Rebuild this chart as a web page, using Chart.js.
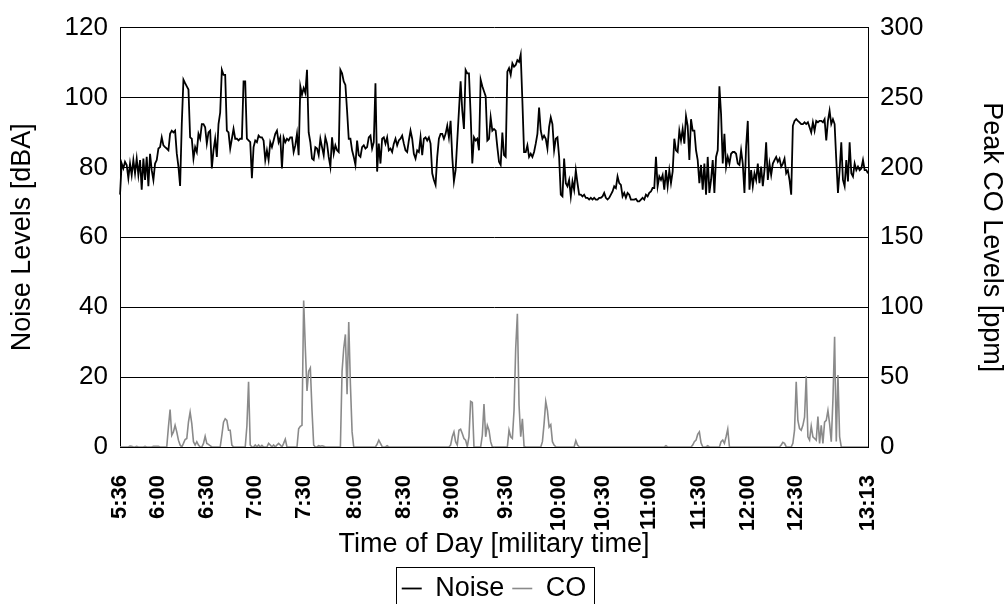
<!DOCTYPE html>
<html>
<head>
<meta charset="utf-8">
<script src="https://cdn.jsdelivr.net/npm/chart.js@4.4.1/dist/chart.umd.min.js"></script>
<style>
  html, body { margin: 0; padding: 0; background: #fff; }
  #wrap { width: 1008px; height: 604px; }
</style>
</head>
<body>
<div id="wrap"><canvas id="chart" width="1008" height="604"></canvas></div>
<script>
// noise level per sample [dBA]
const noiseDb = [
  72.2, 81.1, 79.7, 81.6, 80.7, 76.9, 81.1, 77.8, 82.1, 78.3,
  82.5, 77.8, 82.1, 73.6, 82.5, 76.4, 83.0, 74.6, 83.9, 79.2,
  76.4, 81.1, 82.1, 85.4, 85.8, 88.6, 86.3, 85.8, 85.4, 84.9,
  89.6, 90.5, 90.0, 90.5, 84.0, 80.2, 74.7, 92.4, 105.1, 104.1,
  103.2, 102.3, 88.6, 88.2, 82.5, 85.8, 84.4, 89.6, 88.2, 92.4,
  92.4, 91.5, 86.8, 90.0, 90.5, 79.7, 84.9, 88.2, 83.0, 92.4,
  95.7, 107.9, 106.5, 106.5, 90.5, 90.0, 85.4, 88.2, 91.0, 88.2,
  88.2, 87.7, 88.2, 88.2, 104.6,
  104.6, 88.2, 87.7, 87.2, 76.9, 85.8, 87.7, 87.2, 89.1, 88.6,
  88.6, 87.7, 82.1, 84.9, 82.1, 87.2, 85.8, 87.7, 89.6, 90.5,
  87.2, 88.6, 79.7, 88.6, 87.2, 88.2, 87.7, 88.6, 88.6, 84.4,
  86.3, 89.6, 83.5, 103.2, 100.8, 102.7, 101.3, 107.9, 90.0, 87.2,
  82.5, 82.1, 85.8, 85.4, 83.5, 88.2, 85.8, 83.5, 88.6, 86.8,
  83.0, 80.2, 88.6, 83.9, 86.3, 84.9, 84.4, 107.9, 106.9, 104.6,
  103.6, 96.2, 88.2, 88.2, 84.9, 83.0, 80.7, 87.7, 83.5, 83.0,
  85.8, 86.3, 85.4, 85.8, 88.6,
  89.1, 85.4, 87.2, 104.1, 78.8, 86.8, 81.1, 88.2, 88.6, 86.8,
  88.6, 84.9, 85.4, 84.4, 86.8, 88.2, 86.3, 87.7, 88.2, 89.1,
  86.8, 84.9, 84.4, 87.7, 90.5, 88.2, 83.9, 82.5, 84.9, 84.4,
  88.6, 83.5, 88.2, 88.6, 87.7, 88.6, 86.8, 78.3, 76.4, 75.0,
  83.0, 88.2, 89.6, 89.6, 88.2, 89.6, 91.9, 88.6, 93.3, 83.0,
  76.0, 79.2, 87.7, 96.2, 104.6, 96.2, 91.0, 107.9, 106.9, 106.9,
  95.2, 81.1, 88.6, 87.7, 88.2, 84.9, 105.1, 103.2, 101.8, 100.4,
  87.7, 88.2, 94.3, 90.5, 91.0,
  90.5, 85.8, 81.6, 80.7, 90.0, 83.5, 83.0, 107.4, 108.4, 106.5,
  109.8, 108.8, 109.3, 110.7, 110.2, 112.3, 99.0, 84.4, 84.4, 86.3,
  83.0, 83.9, 83.0, 84.4, 86.8, 89.6, 97.1, 90.5, 88.2, 89.1,
  88.2, 85.4, 91.5, 94.3, 92.4, 84.9, 88.2, 88.6, 83.0, 72.2,
  71.7, 82.5, 75.5, 74.6, 76.4, 71.7, 76.0, 73.6, 79.2, 75.5,
  72.2, 72.2, 71.7, 72.2, 71.3, 71.3, 70.8, 71.3, 70.8, 71.3,
  70.8, 70.8, 71.3, 71.3, 71.7, 72.7, 71.3, 70.8, 71.3, 72.2,
  73.1, 74.6, 74.1, 77.4, 75.5, 75.0,
  71.7, 72.7, 71.3, 72.7, 72.2, 70.8, 70.8, 70.8, 71.0, 70.3,
  70.3, 70.8, 71.3, 70.8, 72.2, 71.7, 72.7, 73.1, 74.1, 74.1,
  83.0, 74.6, 77.4, 76.4, 77.8, 73.6, 79.2, 74.6, 79.2, 75.5,
  78.8, 88.2, 84.9, 84.4, 90.5, 87.7, 91.0, 86.8, 94.7, 91.9,
  82.1, 93.8, 90.5, 90.5, 84.9, 82.1, 75.5, 80.7, 73.6, 81.1,
  72.2, 83.0, 72.7, 76.4, 82.1, 72.7, 83.0, 84.9, 103.2, 95.2,
  81.1, 89.6, 80.2, 83.0, 81.1, 83.9, 84.4, 84.4, 83.9, 81.1,
  80.7, 84.9, 81.1, 72.7, 86.0,
  93.3, 73.6, 79.2, 74.6, 78.3, 76.4, 81.1, 75.5, 80.2, 74.6,
  79.2, 87.2, 76.4, 81.1, 77.8, 81.1, 82.1, 83.0, 81.6, 82.5,
  80.2, 81.1, 82.5, 78.3, 79.2, 76.4, 72.2, 91.9, 93.3, 93.8,
  93.3, 92.9, 92.4, 92.4, 92.9, 92.4, 92.9, 91.5, 90.0, 92.9,
  90.5, 93.3, 92.9, 93.3, 93.3, 92.9, 93.8, 87.7, 93.3, 96.2,
  92.4, 93.8, 92.4, 82.1, 72.7, 79.2, 87.2, 76.4, 74.6, 82.1,
  76.0, 87.2, 78.3, 77.4, 81.1, 79.2, 80.2, 79.2, 79.7, 82.1,
  79.2, 79.2, 78.3
];

// peak CO per sample [ppm]
const coPpm = [
  0, 0, 0, 0, 0, 0, 0.7, 0.5, 0, 0,
  0.5, 0, 0, 0, 0, 0.5, 0, 0, 0, 0,
  0.5, 0.5, 0.5, 0.5, 0, 0, 0, 0, 0, 14.3,
  26.8, 8.4, 10.8, 15.5, 10.8, 4.9, 1.4, 0, 2.6, 5.4,
  6.1, 17.8, 24.9, 16.7, 3.8, 1.4, 3.8, 1.4, 0, 0,
  2.6, 7.7, 2.6, 1.9, 0.9, 0, 0, 0, 0, 0,
  0, 8.4, 17.8, 20.2, 19.0, 12.0, 12.0, 1.4, 0, 0,
  0, 0, 0, 0, 0, 0, 15.0, 46.7, 1.4, 0,
  0, 1.4, 0, 1.4, 0, 1.2, 0, 0, 0, 2.6,
  1.4, 0, 1.4, 0, 1.4, 2.6, 1.4, 0, 2.6, 5.6,
  0, 0, 0, 0, 0, 0, 0, 13.1, 14.8, 15.5,
  104.7, 70.6, 40.1, 54.2, 56.6, 26.1, 1.4, 0, 0, 0.9,
  0.5, 0.9, 0.5, 0, 0, 0, 0, 0, 0, 0,
  0, 0, 0, 54.2, 70.6, 80.5, 37.8, 89.4, 44.8, 10.8,
  0, 0, 0, 0, 0, 0, 0,
  0, 0, 0, 0, 0, 0, 0, 2.0, 4.9, 2.6,
  0.2, 0, 0, 0.9, 0, 0, 0, 0, 0, 0,
  0, 0, 0, 0, 0, 0, 0, 0, 0, 0,
  0, 0, 0, 0, 0, 0, 0, 0, 0, 0,
  0, 0, 0, 0, 0, 0, 0, 0, 0, 0,
  0, 1.4, 7.3, 10.8, 3.8, 1.4, 12.0, 12.7, 9.6, 6.1,
  4.9, 0.2, 7.3, 32.6, 31.9, 0.2, 0, 0, 0, 0,
  8.4, 30.7, 7.3, 15.5, 12.0, 3.8, 0, 0, 0, 0,
  0, 0, 0, 0, 0, 0, 12.0, 7.3, 6.1, 26.1,
  70.6, 95.3, 30.0, 7.3, 20.2, 0.5, 0, 0, 0, 0,
  0, 0, 0, 0, 0, 0, 3.8, 16.7, 32.6, 26.1,
  14.3, 16.0, 3.8, 1.4, 0.2, 0, 0, 0, 0, 0,
  0, 0, 0, 0, 0, 0, 4.5, 1.4, 0.2, 0,
  0, 0, 0, 0, 0, 0, 0, 0, 0, 0,
  0, 0, 0, 0,
  0, 0, 0, 0, 0, 0, 0, 0, 0, 0,
  0, 0, 0, 0, 0, 0, 0, 0, 0, 0,
  0, 0, 0, 0, 0, 0, 0, 0, 0, 0,
  0, 0, 0, 0, 0, 0, 0.9, 0, 0, 0,
  0, 0, 0, 0, 0, 0, 0, 0, 0, 0,
  0, 0, 1.4, 3.8, 4.9, 9.0, 10.8, 3.0, 0.2, 0,
  0, 0.9, 0, 0, 0, 0, 0, 0, 0, 3.8,
  4.9, 2.6, 7.3, 12.7, 0.2, 0, 0, 0, 0, 0,
  0, 0, 0, 0, 0, 0, 0, 0, 0, 0,
  0, 0, 0, 0, 0, 0, 0, 0, 0, 0,
  0, 0, 0, 0, 0, 1.4, 3.3, 2.6, 0.2, 0,
  0, 0, 2.6, 12.0, 46.7, 19.0, 13.1, 12.0, 15.5, 21.4,
  50.7, 7.3, 5.0, 15.0, 7.3, 6.1, 4.9, 21.8, 2.6, 15.5,
  2.6, 17.8, 19.0, 26.1, 16.7, 3.8, 34.0, 78.9, 4.0, 51.4,
  7.3, 0, 0, 0, 0, 0, 0, 0, 0, 0,
  0, 0, 0, 0, 0, 0, 0, 0
];

// time labels and the sample they sit on
const tickLabels = ['5:36', '6:00', '6:30', '7:00', '7:30', '8:00', '8:30', '9:00',
  '9:30', '10:00', '10:30', '11:00', '11:30', '12:00', '12:30', '13:13'];
const tickIndex = [0, 23, 52, 81, 110, 141, 170, 199, 231, 263, 289, 317, 347, 376, 405, 448];

const sampleLabels = noiseDb.map((_, i) => {
  const k = tickIndex.indexOf(i);
  return k >= 0 ? tickLabels[k] : '';
});

const FONT = '"Liberation Sans", Arial, sans-serif';
Chart.defaults.font.family = FONT;
Chart.defaults.color = '#000';

// Excel-style frame round the legend
const legendFrame = {
  id: 'legendFrame',
  afterDraw(chart) {
    const lg = chart.legend;
    const boxes = lg.legendHitBoxes;
    if (!boxes || !boxes.length) return;
    const last = boxes[boxes.length - 1];
    const left = Math.round(boxes[0].left - 6) + 0.5;
    const right = Math.round(last.left + last.width + 8) + 0.5;
    const top = Math.round(lg.top) + 0.5;
    const ctx = chart.ctx;
    ctx.save();
    ctx.strokeStyle = '#000';
    ctx.lineWidth = 1;
    ctx.strokeRect(left, top, right - left, chart.height - top + 10);
    ctx.restore();
  }
};

new Chart(document.getElementById('chart'), {
  type: 'line',
  data: {
    labels: sampleLabels,
    datasets: [
      {
        label: 'Noise',
        data: noiseDb,
        yAxisID: 'yNoise',
        borderColor: '#000',
        borderWidth: 1.8,
        pointRadius: 0,
        tension: 0
      },
      {
        label: 'CO',
        data: coPpm,
        yAxisID: 'yCo',
        borderColor: '#8a8a8a',
        borderWidth: 1.6,
        pointRadius: 0,
        tension: 0
      }
    ]
  },
  options: {
    responsive: false,
    animation: false,
    devicePixelRatio: 1,
    layout: { padding: { top: 23, left: 0, right: 0, bottom: -8 } },
    plugins: {
      legend: {
        position: 'bottom',
        fullSize: false,
        labels: {
          font: { size: 27 },
          color: '#000',
          usePointStyle: true,
          pointStyle: 'line',
          pointStyleWidth: 20,
          padding: 8
        }
      },
      tooltip: { enabled: false }
    },
    scales: {
      x: {
        type: 'category',
        grid: { display: false },
        border: { display: true, color: '#000', width: 1 },
        ticks: {
          autoSkip: false,
          minRotation: 90,
          maxRotation: 90,
          padding: 20,
          color: '#000',
          font: { size: 22, weight: 'bold' },
          callback: (v, i) => sampleLabels[i]
        },
        title: {
          display: true,
          text: 'Time of Day [military time]',
          font: { size: 27 },
          padding: { top: 0, bottom: 6 }
        },
        afterFit: s => { s.height = 120; }
      },
      yNoise: {
        position: 'left',
        min: 0,
        max: 120,
        ticks: { stepSize: 20, padding: 12, font: { size: 26 }, color: '#000' },
        grid: { color: '#000', lineWidth: 1, drawTicks: false },
        border: { display: true, color: '#000', width: 1 },
        title: {
          display: true,
          text: 'Noise Levels [dBA]',
          font: { size: 27 },
          padding: { top: 6, bottom: 0 }
        },
        afterFit: s => { s.width = 120; }
      },
      yCo: {
        position: 'right',
        min: 0,
        max: 300,
        ticks: { stepSize: 50, padding: 12, font: { size: 26 }, color: '#000' },
        grid: { display: false, drawTicks: false },
        border: { display: true, color: '#000', width: 1 },
        title: {
          display: true,
          text: 'Peak CO Levels [ppm]',
          font: { size: 27 },
          padding: { top: 0, bottom: 0 }
        },
        afterFit: s => { s.width = 140; }
      }
    }
  },
  plugins: [legendFrame]
});
</script>
</body>
</html>
